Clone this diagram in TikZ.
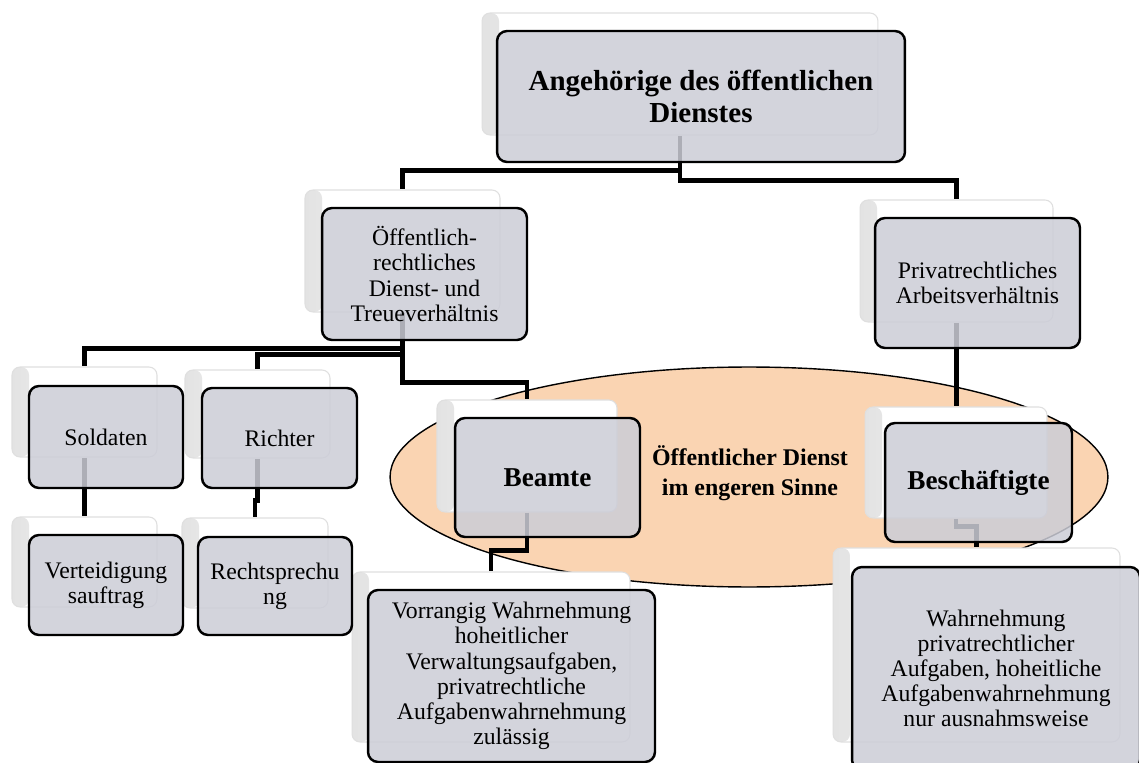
\documentclass[tikz,border=0pt]{standalone}
\usepackage{fontspec}
\setmainfont{Liberation Serif}
\pgfdeclarelayer{bglayer}
\pgfdeclarelayer{connlayer}
\pgfsetlayers{bglayer,connlayer,main}
\definecolor{boxgrey}{RGB}{204,205,215}
\definecolor{peach}{RGB}{250,212,178}
\tikzset{
  shadowbox/.style={draw=gray!25, fill=white, rounded corners=0.16cm, line width=0.6pt, inner sep=0pt,
    path picture={\shade[left color=gray!22, right color=white]
      (path picture bounding box.south west) rectangle ([xshift=0.34cm]path picture bounding box.north west);}},
  mainbox/.style={draw=black, line width=1.4pt, fill=boxgrey, fill opacity=0.85, text opacity=1,
    rounded corners=0.2cm, inner sep=0pt, align=center, font=\fontsize{13.5}{14.3}\selectfont},
  boldbox/.style={mainbox, font=\fontsize{15.5}{18}\selectfont\bfseries},
  conn/.style={draw=black, line width=2.6pt},
}
\begin{document}
\begin{tikzpicture}[x=0.02cm, y=-0.02cm]
\clip (0,0) rectangle (1139,763);
\begin{pgfonlayer}{bglayer}
\fill[white] (0,0) rectangle (1139,763);
\draw[fill=peach, line width=0.8pt] (749,477) ellipse [x radius=7.18cm, y radius=2.2cm];
\end{pgfonlayer}
\node[font=\fontsize{13.6}{17}\selectfont\bfseries, align=center] (ell) at (750,473) {Öffentlicher Dienst\\im engeren Sinne};
% shadow boxes
\node[shadowbox, minimum width=7.92cm, minimum height=2.44cm] (topS) at (680,74) {};
\node[shadowbox, minimum width=3.90cm, minimum height=2.44cm] (oefS) at (402.5,251) {};
\node[shadowbox, minimum width=3.86cm, minimum height=2.44cm] (privS) at (956.5,261) {};
\node[shadowbox, minimum width=2.90cm, minimum height=1.80cm] (solS) at (84.5,412) {};
\node[shadowbox, minimum width=2.90cm, minimum height=1.76cm] (ricS) at (257.5,414) {};
\node[shadowbox, minimum width=2.90cm, minimum height=1.80cm] (verS) at (84.5,562) {};
\node[shadowbox, minimum width=2.92cm, minimum height=1.80cm] (recS) at (255,563) {};
\node[shadowbox, minimum width=3.60cm, minimum height=2.24cm] (beaS) at (527,456) {};
\node[shadowbox, minimum width=3.64cm, minimum height=2.22cm] (besS) at (956,462.5) {};
\node[shadowbox, minimum width=5.56cm, minimum height=3.40cm] (vorS) at (491,657) {};
\node[shadowbox, minimum width=5.74cm, minimum height=3.88cm] (wahS) at (976.5,645) {};
% main boxes
\node[boldbox, font=\fontsize{16.5}{18.5}\selectfont\bfseries, minimum width=8.16cm, minimum height=2.62cm] (top) at (701,96.5) {Angehörige des öffentlichen\\Dienstes};
\node[mainbox, minimum width=4.10cm, minimum height=2.64cm] (oef) at (424.5,274) {Öffentlich-\\rechtliches\\Dienst- und\\Treueverhältnis};
\node[mainbox, minimum width=4.10cm, minimum height=2.60cm] (priv) at (977.5,283) {Privatrechtliches\\Arbeitsverhältnis};
\node[mainbox, minimum width=3.08cm, minimum height=2.04cm] (sol) at (106,437) {Soldaten};
\node[mainbox, minimum width=3.10cm, minimum height=2.00cm] (ric) at (279.5,438) {Richter};
\node[mainbox, minimum width=3.08cm, minimum height=2.00cm] (ver) at (106,585) {Verteidigung\\sauftrag};
\node[mainbox, minimum width=3.08cm, minimum height=1.96cm] (rec) at (275,586) {Rechtsprechu\\ng};
\node[boldbox, minimum width=3.70cm, minimum height=2.38cm] (bea) at (547.5,477.5) {Beamte};
\node[boldbox, minimum width=3.74cm, minimum height=2.38cm] (bes) at (978.5,482.5) {Beschäftigte};
\node[mainbox, minimum width=5.74cm, minimum height=3.44cm] (vor) at (511.5,676) {Vorrangig Wahrnehmung\\hoheitlicher\\Verwaltungsaufgaben,\\privatrechtliche\\Aufgabenwahrnehmung\\zulässig};
\node[mainbox, minimum width=5.76cm, minimum height=4.06cm] (wah) at (996,668.5) {Wahrnehmung\\privatrechtlicher\\Aufgaben, hoheitliche\\Aufgabenwahrnehmung\\nur ausnahmsweise};
% connectors
\begin{pgfonlayer}{connlayer}
\draw[conn] (topS.south) -- ++(0,35) -| (oefS.north);
\draw[conn] (topS.south) -- ++(0,45) -| (privS.north);
\draw[conn] (oefS.south) -- ++(0,36) -| (solS.north);
\draw[conn] (oefS.south) -- ++(0,42) -| (ricS.north);
\draw[conn] (oefS.south) -- ++(0,70) -| (beaS.north);
\draw[conn] (solS.south) -- (verS.north);
\draw[conn] (ricS.south) -- ++(0,42) -| (recS.north);
\draw[conn] (beaS.south) -- ++(0,38) -| (vorS.north);
\draw[conn] (privS.south) -- (privS.south |- besS.north);
\draw[conn] (besS.south) -- ++(0,8) -| (wahS.north);
\end{pgfonlayer}
\end{tikzpicture}
\end{document}
